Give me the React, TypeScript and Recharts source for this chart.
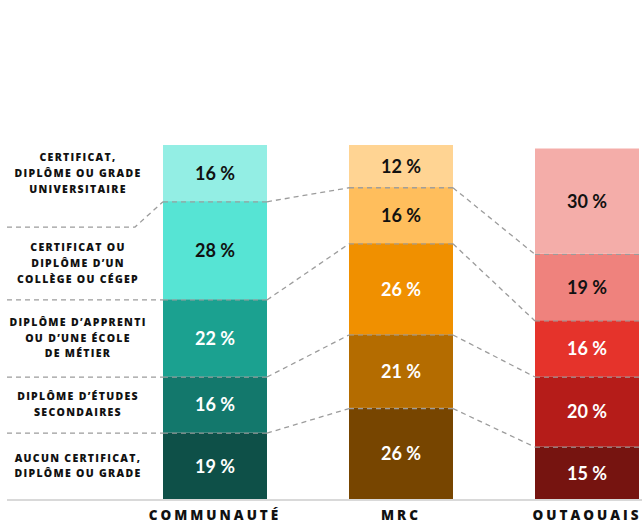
import React from 'react';
import { BarChart, Bar, XAxis, YAxis, LabelList } from 'recharts';

// Plus haut niveau de scolarité atteint (%), du bas vers le haut de chaque colonne
const categories = ['COMMUNAUTÉ', 'MRC', 'OUTAOUAIS'];
const aucun = [19, 26, 15];
const secondaire = [16, 21, 20];
const apprenti = [22, 26, 16];
const college = [28, 16, 19];
const universite = [16, 12, 30];

const levelLabels = [
  ['AUCUN CERTIFICAT,', 'DIPLÔME OU GRADE'],
  ['DIPLÔME D’ÉTUDES', 'SECONDAIRES'],
  ['DIPLÔME D’APPRENTI', 'OU D’UNE ÉCOLE', 'DE MÉTIER'],
  ['CERTIFICAT OU', 'DIPLÔME D’UN', 'COLLÈGE OU CÉGEP'],
  ['CERTIFICAT,', 'DIPLÔME OU GRADE', 'UNIVERSITAIRE'],
];

const keys = ['aucun', 'secondaire', 'apprenti', 'college', 'universite'];
const series = [aucun, secondaire, apprenti, college, universite];

// une palette par colonne, du bas vers le haut
const palettes = [
  ['#0E5048', '#13786C', '#1BA190', '#56E4D4', '#93EEE4'],
  ['#774500', '#B46C00', '#F09000', '#FFBE5C', '#FFD493'],
  ['#761410', '#B51C19', '#E5332B', '#EF827D', '#F4ADA9'],
];

const data = categories.map((name, i) => ({
  name,
  aucun: aucun[i],
  secondaire: secondaire[i],
  apprenti: apprenti[i],
  college: college[i],
  universite: universite[i],
}));

const WIDTH = 680;
const HEIGHT = 525;
const MARGIN = { top: 145, right: 0, bottom: 0, left: 122 };
const BAND = (WIDTH - MARGIN.left - MARGIN.right) / categories.length;
const DASH = '5 4';
const DASH_COLOR = '#9C9C9C';
const LABEL_X = 78;
const LINE_H = 15.7;
const KINK = 26;

const sumBelow = (li: number, ci: number) => {
  let s = 0;
  for (let k = 0; k < li; k++) s += series[k][ci];
  return s;
};

const LevelLabel = ({ lines, cy }: { lines: string[]; cy: number }) => (
  <text
    textAnchor="middle"
    fill="#111"
    fontFamily="'Open Sans', sans-serif"
    fontWeight={800}
    fontSize={10.5}
    letterSpacing={1.3}
  >
    {lines.map((l, k) => (
      <tspan key={k} x={LABEL_X} y={cy + (k - (lines.length - 1) / 2) * LINE_H + 3.8}>
        {l}
      </tspan>
    ))}
  </text>
);

const makeShape = (li: number) => (props: any) => {
  const { x, y, width, height, payload } = props;
  const ci = categories.indexOf(payload.name);
  const seg = series[li][ci];
  const ppu = height / seg;
  const base = y + height + sumBelow(li, ci) * ppu;
  const isTop = li === series.length - 1;
  const ly = y + 0.7;
  const parts: React.ReactNode[] = [];

  parts.push(<rect key="r" x={x} y={y} width={width} height={height} fill={palettes[ci][li]} />);

  if (ci === 0 && li === 0) {
    parts.push(<line key="base" x1={7} x2={642} y1={y + height + 1} y2={y + height + 1} stroke="#D9D9D9" strokeWidth={2} />);
  }

  if (!isTop) {
    parts.push(
      <line key="d" x1={x} x2={x + width} y1={ly} y2={ly} stroke={DASH_COLOR} strokeWidth={1.3} strokeDasharray={DASH} />
    );
    if (ci < categories.length - 1) {
      const ny = base - sumBelow(li + 1, ci + 1) * ppu + 0.7;
      parts.push(
        <line key="c" x1={x + width} y1={ly} x2={x + BAND} y2={ny} stroke={DASH_COLOR} strokeWidth={1.3} strokeDasharray={DASH} />
      );
    }
    if (ci === 0) {
      if (li === 3) {
        parts.push(
          <polyline
            key="l"
            points={`7,${y + KINK} 135,${y + KINK} ${x},${ly}`}
            fill="none"
            stroke={DASH_COLOR}
            strokeWidth={1.3}
            strokeDasharray={DASH}
          />
        );
      } else {
        parts.push(
          <line key="l" x1={7} x2={x} y1={ly} y2={ly} stroke={DASH_COLOR} strokeWidth={1.3} strokeDasharray={DASH} />
        );
      }
    }
  }

  if (ci === 0) {
    const cy = li === 3 ? (y + KINK + y + height) / 2 : y + height / 2;
    parts.push(<LevelLabel key="t" lines={levelLabels[li]} cy={cy} />);
  }

  return <g>{parts}</g>;
};

const makeLabel = (li: number) => (p: any) => {
  const vb = p.viewBox && p.viewBox.width !== undefined ? p.viewBox : p;
  const v = Array.isArray(p.value) ? p.value[1] - p.value[0] : p.value;
  return (
    <text
      x={vb.x + vb.width / 2}
      y={vb.y + vb.height / 2}
      textAnchor="middle"
      dominantBaseline="central"
      fill={li >= 3 ? '#111' : '#FFFFFF'}
      fontFamily="Lato, sans-serif"
      fontWeight={700}
      fontSize={18}
    >
      {`${v} %`}
    </text>
  );
};

const CategoryTick = (props: any) => {
  const { x, y, payload } = props;
  return (
    <text
      x={x}
      y={y + 13}
      textAnchor="middle"
      fill="#111"
      fontFamily="'Open Sans', sans-serif"
      fontWeight={800}
      fontSize={13.5}
      letterSpacing={3}
    >
      {payload.value}
    </text>
  );
};

export default function App() {
  return (
    <div style={{ position: 'absolute', left: 0, top: 0, width: 642, height: 525, overflow: 'hidden', background: '#fff' }}>
      <BarChart width={WIDTH} height={HEIGHT} data={data} margin={MARGIN} barCategoryGap={0}>
        <XAxis dataKey="name" axisLine={false} tickLine={false} height={26} tick={<CategoryTick />} interval={0} />
        <YAxis hide domain={[0, 101]} />
        {keys.map((k, li) => (
          <Bar key={k} dataKey={k} stackId="a" barSize={104} isAnimationActive={false} shape={makeShape(li)}>
            <LabelList dataKey={k} content={makeLabel(li)} />
          </Bar>
        ))}
      </BarChart>
    </div>
  );
}
